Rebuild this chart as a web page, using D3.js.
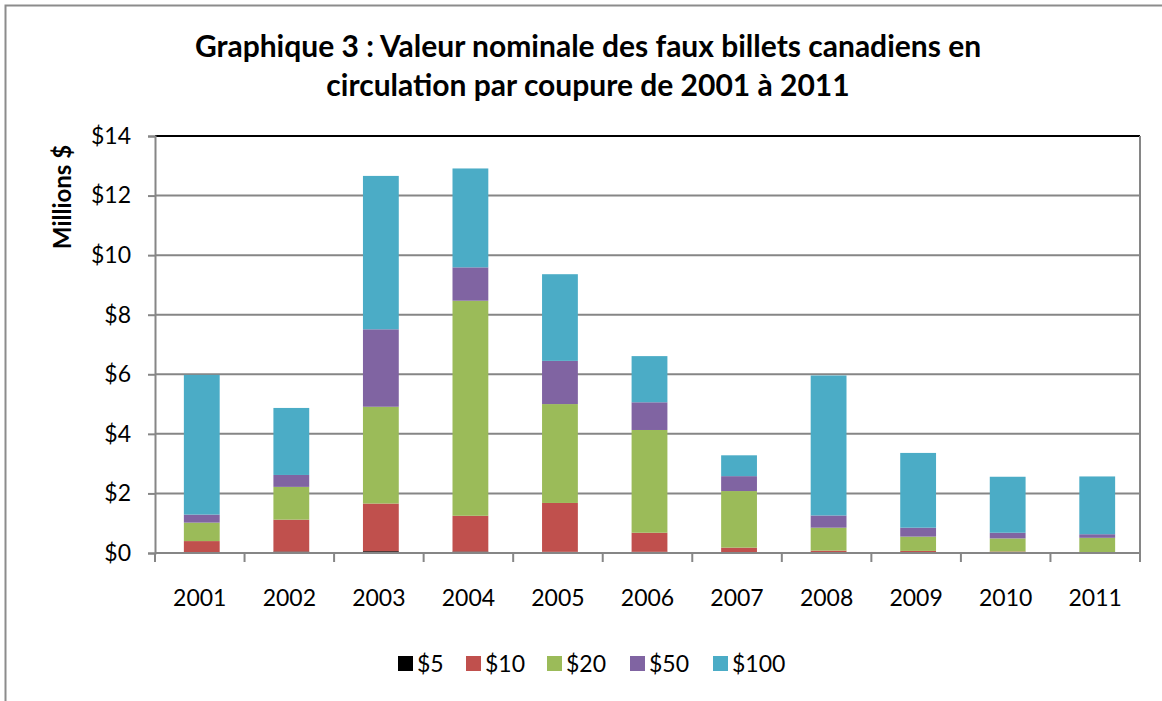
<!DOCTYPE html>
<html>
<head>
<meta charset="utf-8">
<script src="https://cdn.jsdelivr.net/npm/d3@7"></script>
<style>
  body { margin: 0; background: #fff; }
  svg { font-family: Lato, "Open Sans", sans-serif; }
</style>
</head>
<body>
<svg id="chart" width="1162" height="701"></svg>
<script>
var years = ["2001","2002","2003","2004","2005","2006","2007","2008","2009","2010","2011"]
var series = ["$5","$10","$20","$50","$100"]
var colors = ["#000000","#c0504d","#9bbb59","#8064a2","#4bacc6"]

// millions of dollars, per denomination
var v5   = [0.01, 0.05, 0.06, 0.05, 0.04, 0.04, 0.03, 0.01, 0.00, 0.00, 0.00]
var v10  = [0.39, 1.07, 1.60, 1.20, 1.64, 0.64, 0.15, 0.07, 0.07, 0.05, 0.01]
var v20  = [0.62, 1.10, 3.25, 7.22, 3.32, 3.45, 1.90, 0.77, 0.48, 0.44, 0.50]
var v50  = [0.27, 0.40, 2.60, 1.12, 1.45, 0.93, 0.50, 0.41, 0.30, 0.19, 0.12]
var v100 = [4.69, 2.25, 5.15, 3.32, 2.91, 1.55, 0.70, 4.70, 2.51, 1.88, 1.94]
var yTicks = [0, 2, 4, 6, 8, 10, 12, 14]

var rows = years.map(function(y, i){
    return {year: y, "$5": v5[i], "$10": v10[i], "$20": v20[i], "$50": v50[i], "$100": v100[i]}
})

var svg = d3.select("#chart")
var plotL = 155, plotR = 1140, plotT = 136, plotB = 553

// outer frame (only top and left edges are visible)
svg.append("path")
    .attr("d", "M5.5,701 V5.5 H1162")
    .attr("fill", "none")
    .attr("stroke", "#8c8c8c")
    .attr("stroke-width", 2)

var x = d3.scaleBand().domain(years).range([plotL, plotR]).paddingInner(0.6).paddingOuter(0.3)
var y = d3.scaleLinear().domain([0, 14]).range([plotB, plotT])

// gridlines
svg.append("g")
    .selectAll("line")
    .data(yTicks.slice(1))
    .join("line")
    .attr("x1", plotL).attr("x2", plotR)
    .attr("y1", d => y(d)).attr("y2", d => y(d))
    .attr("stroke", "#868686")
    .attr("stroke-width", 2)

// top and right border of plot area
svg.append("line").attr("x1", plotL).attr("x2", plotR).attr("y1", plotT).attr("y2", plotT)
    .attr("stroke", "#000").attr("stroke-width", 2)
svg.append("line").attr("x1", plotR).attr("x2", plotR).attr("y1", plotT).attr("y2", plotB)
    .attr("stroke", "#868686").attr("stroke-width", 2)

var stacked = d3.stack().keys(series)(rows)
var color = d3.scaleOrdinal().domain(series).range(colors)

svg.append("g")
    .selectAll("g")
    .data(stacked)
    .join("g")
    .attr("fill", d => color(d.key))
    .selectAll("rect")
    .data(d => d)
    .join("rect")
    .attr("x", d => x(d.data.year) + 2)
    .attr("width", x.bandwidth())
    .attr("y", d => y(d[1]))
    .attr("height", d => y(d[0]) - y(d[1]))

// y axis
var yAxis = svg.append("g")
    .attr("transform", "translate(" + plotL + ",0)")
    .call(d3.axisLeft(y).tickValues(yTicks).tickSize(7).tickPadding(17).tickFormat(d => "$" + d))
yAxis.select(".domain").attr("stroke", "#868686").attr("stroke-width", 2)
yAxis.selectAll(".tick line").attr("stroke", "#868686").attr("stroke-width", 2)
yAxis.selectAll("text").attr("font-size", 23).attr("fill", "#000").attr("font-family", "Lato, sans-serif")

// x axis: ticks at category boundaries
var bounds = d3.range(years.length + 1).map(i => plotL + i * (plotR - plotL) / years.length)
svg.append("line").attr("x1", plotL).attr("x2", plotR).attr("y1", plotB).attr("y2", plotB)
    .attr("stroke", "#868686").attr("stroke-width", 2)
svg.append("g")
    .selectAll("line")
    .data(bounds)
    .join("line")
    .attr("x1", d => d).attr("x2", d => d)
    .attr("y1", plotB).attr("y2", plotB + 9)
    .attr("stroke", "#868686").attr("stroke-width", 2)
svg.append("g")
    .selectAll("text")
    .data(years)
    .join("text")
    .attr("x", d => x(d) + x.bandwidth() / 2)
    .attr("y", 606)
    .attr("text-anchor", "middle")
    .attr("font-size", 23)
    .text(d => d)

// title
var title = svg.append("text")
    .attr("text-anchor", "middle")
    .attr("font-size", 30)
    .attr("font-weight", "bold")
title.append("tspan").attr("x", 588).attr("y", 57).text("Graphique 3 : Valeur nominale des faux billets canadiens en")
title.append("tspan").attr("x", 588).attr("y", 96).text("circulation par coupure de 2001 à 2011")

// y axis title
svg.append("text")
    .attr("transform", "translate(71,197) rotate(-90)")
    .attr("text-anchor", "middle")
    .attr("font-size", 24)
    .attr("font-weight", "bold")
    .text("Millions $")

// legend
var legendX = [398, 466, 547, 630, 713]
var legend = svg.append("g")
    .selectAll("g")
    .data(series)
    .join("g")
    .attr("transform", (d, i) => "translate(" + legendX[i] + ",656)")
legend.append("rect")
    .attr("width", 15).attr("height", 15)
    .attr("fill", d => color(d))
legend.append("text")
    .attr("x", 19).attr("y", 16)
    .attr("font-size", 23)
    .text(d => d)
</script>
</body>
</html>
